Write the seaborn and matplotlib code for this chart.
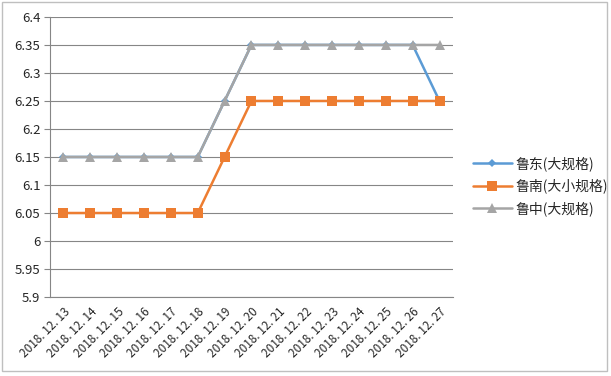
import matplotlib as mpl
import matplotlib.pyplot as plt
import pandas as pd
import seaborn as sns
from matplotlib.patches import Rectangle

DATES = [f"2018. 12. {d}" for d in range(13, 28)]
LUDONG = [6.15, 6.15, 6.15, 6.15, 6.15, 6.15, 6.25, 6.35, 6.35, 6.35, 6.35, 6.35, 6.35, 6.35, 6.25]
LUNAN = [6.05, 6.05, 6.05, 6.05, 6.05, 6.05, 6.15, 6.25, 6.25, 6.25, 6.25, 6.25, 6.25, 6.25, 6.25]
LUZHONG = [6.15, 6.15, 6.15, 6.15, 6.15, 6.15, 6.25, 6.35, 6.35, 6.35, 6.35, 6.35, 6.35, 6.35, 6.35]
SERIES = ["鲁东(大规格)", "鲁南(大小规格)", "鲁中(大规格)"]
Y_TICKS = [5.9, 5.95, 6.0, 6.05, 6.1, 6.15, 6.2, 6.25, 6.3, 6.35, 6.4]

COLORS = {SERIES[0]: "#5B9BD5", SERIES[1]: "#ED7D31", SERIES[2]: "#A5A5A5"}
MARKERS = {SERIES[0]: "D", SERIES[1]: "s", SERIES[2]: "^"}
MSIZE = {SERIES[0]: 4, SERIES[1]: 6.5, SERIES[2]: 6.5}

sns.set_style("white")
mpl.rcParams["font.family"] = ["Noto Sans CJK SC", "DejaVu Sans"]
mpl.rcParams["font.size"] = 9

df = pd.DataFrame({"date": DATES * 3,
                   "value": LUDONG + LUNAN + LUZHONG,
                   "series": sum([[s] * len(DATES) for s in SERIES], [])})
df["x"] = list(range(len(DATES))) * 3

fig = plt.figure(figsize=(6.11, 3.76), dpi=100)
fig.patches.append(Rectangle((0.004, 0.013), 0.99, 0.982, transform=fig.transFigure,
                             fill=False, edgecolor="#BFBFBF", linewidth=1))
ax = fig.add_axes([0.0818, 0.210, 0.6595, 0.745])

for s in SERIES:
    sub = df[df["series"] == s]
    sns.lineplot(data=sub, x="x", y="value", color=COLORS[s], marker=MARKERS[s],
                 markersize=MSIZE[s], markeredgewidth=0, linewidth=1.8,
                 label=s, ax=ax, zorder=3)

ax.set_ylim(5.9, 6.4)
ax.set_yticks(Y_TICKS)
ax.set_yticklabels([f"{v:g}" for v in Y_TICKS], fontsize=9.5)
ax.set_xlim(-0.5, len(DATES) - 0.5)
ax.set_xticks(range(len(DATES)))
ax.set_xticklabels(DATES, rotation=45, ha="right", rotation_mode="anchor", fontsize=8.5)
ax.set_xticks([i - 0.5 for i in range(len(DATES) + 1)], minor=True)
ax.tick_params(axis="x", which="major", length=0, pad=6)
ax.tick_params(axis="x", which="minor", length=4, color="#868686", direction="out")
ax.tick_params(axis="y", length=4, color="#868686", direction="out", left=True, pad=3)
ax.set_xlabel("")
ax.set_ylabel("")
ax.grid(axis="y", color="#868686", linewidth=0.8)
ax.set_axisbelow(True)
for side in ["top", "right"]:
    ax.spines[side].set_visible(False)
for side in ["left", "bottom"]:
    ax.spines[side].set_color("#868686")
    ax.spines[side].set_linewidth(0.8)

ax.legend(loc="center left", bbox_to_anchor=(0.774, 0.505), bbox_transform=fig.transFigure,
          frameon=False, fontsize=10, handlelength=2.8, labelspacing=0.55, handletextpad=0.3,
          borderaxespad=0, borderpad=0)

fig.savefig("out.png", dpi=100)
